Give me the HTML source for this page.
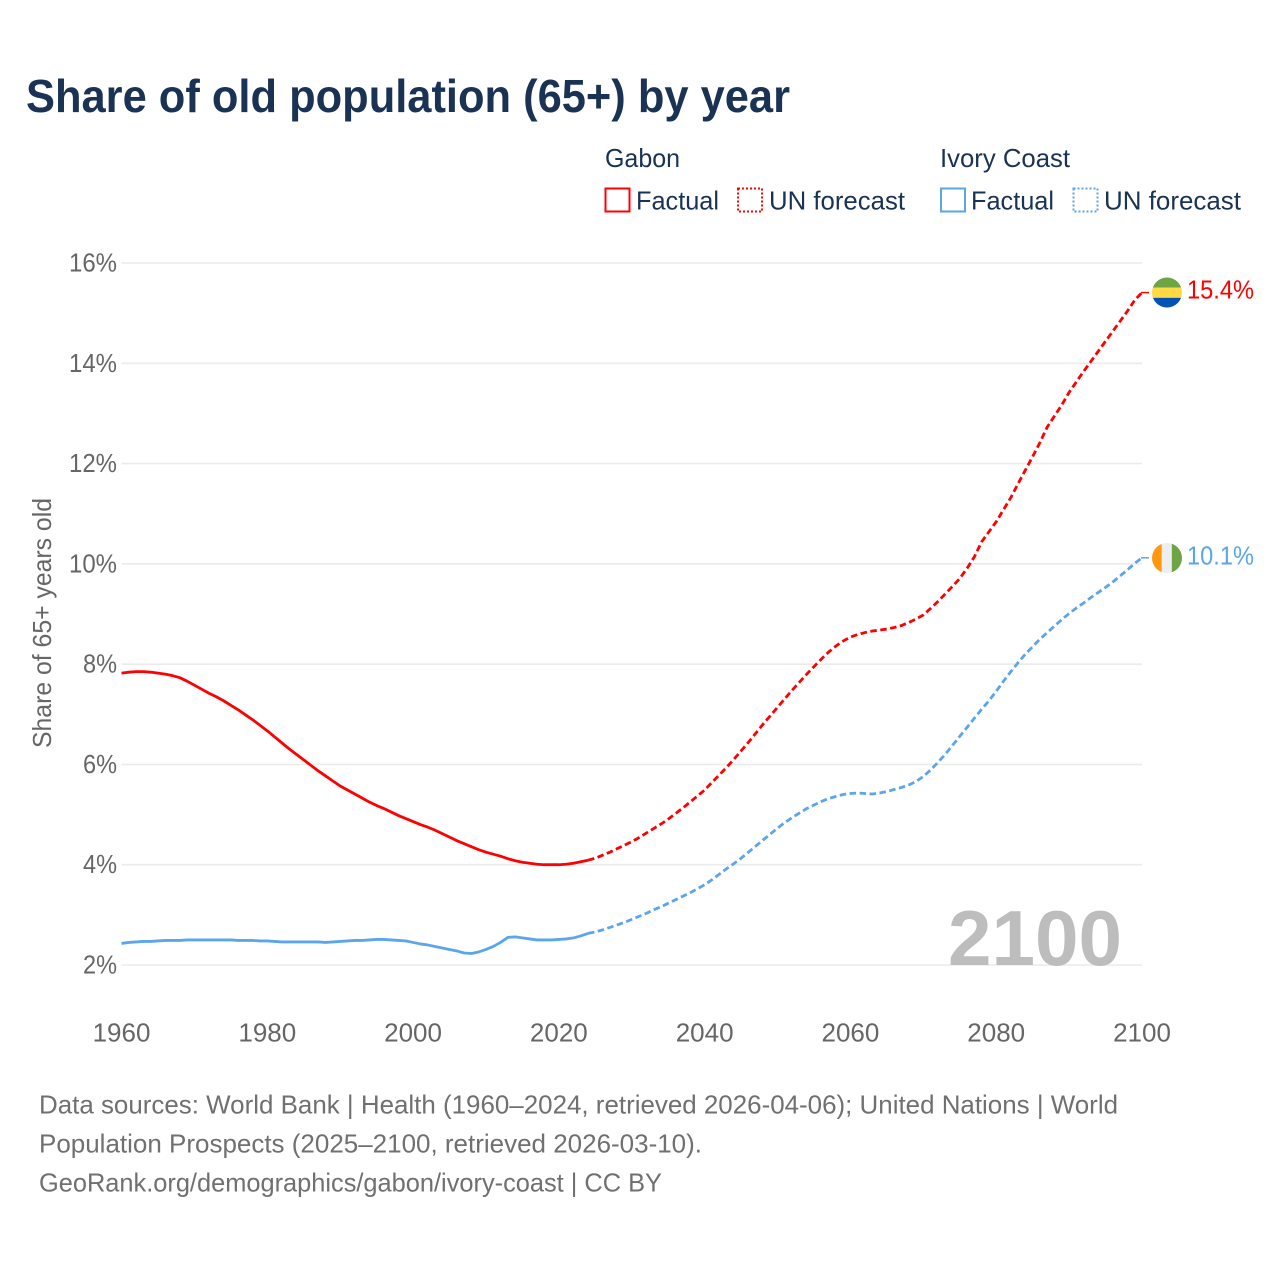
<!DOCTYPE html>
<html lang="en">
<head>
<meta charset="utf-8">
<title>Share of old population (65+) by year</title>
<style>
html,body{margin:0;padding:0;background:#fff;width:1280px;height:1280px;overflow:hidden}
svg{display:block}
text{font-family:"Liberation Sans",sans-serif}
</style>
</head>
<body>
<svg id="chart" xmlns="http://www.w3.org/2000/svg" width="1280" height="1280" viewBox="0 0 1280 1280">
  <rect x="0" y="0" width="1280" height="1280" fill="#ffffff"/>
  <text x="26" y="112" font-size="46" font-weight="700" fill="#1a3354" textLength="764" lengthAdjust="spacingAndGlyphs">Share of old population (65+) by year</text>

  <g font-size="26" fill="#1a3354">
    <text x="605" y="167" textLength="75" lengthAdjust="spacingAndGlyphs">Gabon</text>
    <rect x="605.5" y="188.5" width="24" height="23" fill="none" stroke="#ff0000" stroke-width="2"/>
    <text x="636" y="209.5" textLength="83" lengthAdjust="spacingAndGlyphs">Factual</text>
    <rect x="738" y="188.5" width="24" height="23" fill="none" stroke="#ff0000" stroke-width="2" stroke-dasharray="2 2"/>
    <text x="769" y="209.5" textLength="136" lengthAdjust="spacingAndGlyphs">UN forecast</text>
    <text x="940" y="167" textLength="130" lengthAdjust="spacingAndGlyphs">Ivory Coast</text>
    <rect x="941" y="188.5" width="24" height="23" fill="none" stroke="#5ba5ec" stroke-width="2"/>
    <text x="971" y="209.5" textLength="83" lengthAdjust="spacingAndGlyphs">Factual</text>
    <rect x="1073.5" y="188.5" width="24" height="23" fill="none" stroke="#5ba5ec" stroke-width="2" stroke-dasharray="2 2"/>
    <text x="1104" y="209.5" textLength="137" lengthAdjust="spacingAndGlyphs">UN forecast</text>
  </g>

  <g id="grid"></g>
  <g id="yticks" font-size="26" fill="#666666" text-anchor="end"></g>
  <g id="xticks" font-size="26" fill="#666666" text-anchor="middle"></g>
  <text transform="translate(51 623) rotate(-90)" font-size="26" fill="#666666" text-anchor="middle" textLength="250" lengthAdjust="spacingAndGlyphs">Share of 65+ years old</text>
  <text x="948" y="965" font-size="78" font-weight="700" fill="#bdbdbd" textLength="174" lengthAdjust="spacingAndGlyphs">2100</text>

  <g id="series"></g>

  <defs>
    <clipPath id="flag-clip-gabon"><circle cx="1167" cy="292.5" r="15"/></clipPath>
    <clipPath id="flag-clip-ivory"><circle cx="1167" cy="558" r="15"/></clipPath>
  </defs>
  <g clip-path="url(#flag-clip-gabon)">
    <rect x="1152" y="277" width="30" height="10.5" fill="#6da544"/>
    <rect x="1152" y="287.5" width="30" height="10.3" fill="#ffda44"/>
    <rect x="1152" y="297.8" width="30" height="10.5" fill="#0052b4"/>
  </g>
  <g clip-path="url(#flag-clip-ivory)">
    <rect x="1152" y="543" width="9.8" height="30" fill="#ff9811"/>
    <rect x="1161.8" y="543" width="10" height="30" fill="#eeeeee"/>
    <rect x="1171.8" y="543" width="10.2" height="30" fill="#6da544"/>
  </g>
  <text id="end-gabon" x="1187" y="298.5" font-size="26" fill="#ff0000" textLength="67" lengthAdjust="spacingAndGlyphs"></text>
  <text id="end-ivory" x="1187" y="564.5" font-size="26" fill="#5ba5ec" textLength="67" lengthAdjust="spacingAndGlyphs"></text>

  <g font-size="26" fill="#707070">
    <text x="39" y="1113.5" textLength="1079" lengthAdjust="spacingAndGlyphs">Data sources: World Bank | Health (1960–2024, retrieved 2026-04-06); United Nations | World</text>
    <text x="39" y="1152.5" textLength="663" lengthAdjust="spacingAndGlyphs">Population Prospects (2025–2100, retrieved 2026-03-10).</text>
    <text x="39" y="1191.5" textLength="623" lengthAdjust="spacingAndGlyphs">GeoRank.org/demographics/gabon/ivory-coast | CC BY</text>
  </g>
</svg>
<script>
const xTickYears = [1960, 1980, 2000, 2020, 2040, 2060, 2080, 2100];
const yTickValues = [2, 4, 6, 8, 10, 12, 14, 16];
const factualStartYear = 1960;
const forecastStartYear = 2024;
const gabonFactual = [7.82,7.84,7.85,7.85,7.84,7.82,7.80,7.77,7.73,7.66,7.58,7.50,7.42,7.35,7.27,7.18,7.09,6.99,6.89,6.78,6.67,6.55,6.43,6.31,6.20,6.09,5.98,5.87,5.77,5.67,5.57,5.49,5.41,5.33,5.25,5.18,5.12,5.05,4.98,4.92,4.86,4.80,4.75,4.69,4.62,4.55,4.48,4.42,4.36,4.30,4.25,4.21,4.17,4.12,4.08,4.05,4.03,4.01,4.00,4.00,4.00,4.01,4.03,4.06,4.09];
const gabonForecast = [4.09,4.13,4.19,4.25,4.32,4.39,4.46,4.54,4.63,4.72,4.81,4.91,5.02,5.13,5.25,5.37,5.49,5.64,5.79,5.94,6.10,6.27,6.44,6.62,6.80,6.97,7.14,7.31,7.48,7.64,7.80,7.95,8.10,8.24,8.36,8.46,8.54,8.59,8.63,8.66,8.68,8.70,8.73,8.77,8.83,8.90,8.98,9.11,9.25,9.40,9.55,9.71,9.91,10.14,10.44,10.64,10.84,11.08,11.32,11.60,11.87,12.14,12.42,12.73,12.95,13.17,13.42,13.63,13.84,14.04,14.24,14.44,14.64,14.84,15.04,15.26,15.41];
const ivoryFactual = [2.43,2.45,2.46,2.47,2.47,2.48,2.49,2.49,2.49,2.50,2.50,2.50,2.50,2.50,2.50,2.50,2.49,2.49,2.49,2.48,2.48,2.47,2.46,2.46,2.46,2.46,2.46,2.46,2.45,2.46,2.47,2.48,2.49,2.49,2.50,2.51,2.51,2.50,2.49,2.48,2.45,2.42,2.40,2.37,2.34,2.31,2.28,2.24,2.23,2.26,2.31,2.37,2.45,2.55,2.56,2.54,2.52,2.50,2.50,2.50,2.51,2.52,2.54,2.58,2.63];
const ivoryForecast = [2.63,2.66,2.70,2.75,2.80,2.85,2.91,2.97,3.03,3.10,3.16,3.23,3.30,3.37,3.44,3.52,3.60,3.70,3.81,3.92,4.02,4.13,4.25,4.37,4.49,4.61,4.73,4.84,4.94,5.03,5.12,5.19,5.26,5.32,5.36,5.40,5.42,5.43,5.42,5.41,5.43,5.46,5.50,5.54,5.59,5.66,5.76,5.89,6.04,6.20,6.38,6.56,6.74,6.92,7.10,7.27,7.46,7.66,7.85,8.03,8.20,8.35,8.50,8.63,8.76,8.89,9.01,9.12,9.22,9.33,9.43,9.53,9.64,9.76,9.88,10.01,10.12];

const SVG_NS = 'http://www.w3.org/2000/svg';
const xScale = function (year) { return 121.5 + (year - 1960) * (1142 - 121.5) / 140; };
const yScale = function (value) { return 965 - (value - 2) * (965 - 263) / 14; };
const pathFrom = function (startYear, values) {
  return values.map(function (v, i) {
    return (i === 0 ? 'M' : 'L') + xScale(startYear + i).toFixed(2) + ' ' + yScale(v).toFixed(2);
  }).join(' ');
};
const create = function (tag, parentId) {
  const node = document.createElementNS(SVG_NS, tag);
  document.getElementById(parentId).appendChild(node);
  return node;
};

yTickValues.forEach(function (v) {
  const line = create('line', 'grid');
  
  
  line.setAttribute('x1', xScale(1960));
  line.setAttribute('x2', xScale(2100));
  line.setAttribute('y1', yScale(v));
  line.setAttribute('y2', yScale(v));
  line.setAttribute('stroke', '#ebebeb');
  line.setAttribute('stroke-width', '1.6');
  const label = create('text', 'yticks');
  
  
  label.setAttribute('x', 117);
  label.setAttribute('y', yScale(v) + 8.5);
  label.setAttribute('textLength', v >= 10 ? 48 : 34);
  label.setAttribute('lengthAdjust', 'spacingAndGlyphs');
  label.textContent = v + '%';
});

xTickYears.forEach(function (year) {
  const label = create('text', 'xticks');
  
  
  label.setAttribute('x', xScale(year));
  label.setAttribute('y', 1041.5);
  label.textContent = String(year);
});

const drawLine = function (name, startYear, values, color, dashed) {
  const path = create('path', 'series');
  
  
  path.setAttribute('d', pathFrom(startYear, values));
  path.setAttribute('fill', 'none');
  path.setAttribute('stroke', color);
  path.setAttribute('stroke-width', '2.8');
  path.setAttribute('stroke-linejoin', 'round');
  if (dashed) {
    path.setAttribute('stroke-dasharray', '6.5 3.5');
  }
};

const drawLeader = function (name, values, color) {
  const line = create('line', 'series');
  const last = values[values.length - 1];
  
  
  line.setAttribute('x1', xScale(2100) - 1);
  line.setAttribute('x2', xScale(2100) + 7);
  line.setAttribute('y1', yScale(last));
  line.setAttribute('y2', yScale(last));
  line.setAttribute('stroke', color);
  line.setAttribute('stroke-width', '1.5');
};

drawLine('gabon-factual-line', factualStartYear, gabonFactual, '#ff0000', false);
drawLine('gabon-forecast-line', forecastStartYear, gabonForecast, '#ff0000', true);
drawLine('ivory-coast-factual-line', factualStartYear, ivoryFactual, '#5ba5ec', false);
drawLine('ivory-coast-forecast-line', forecastStartYear, ivoryForecast, '#5ba5ec', true);
drawLeader('gabon-end-leader', gabonForecast, '#ff0000');
drawLeader('ivory-coast-end-leader', ivoryForecast, '#5ba5ec');

document.getElementById('end-gabon').textContent = gabonForecast[gabonForecast.length - 1].toFixed(1) + '%';
document.getElementById('end-ivory').textContent = ivoryForecast[ivoryForecast.length - 1].toFixed(1) + '%';
</script>
</body>
</html>
